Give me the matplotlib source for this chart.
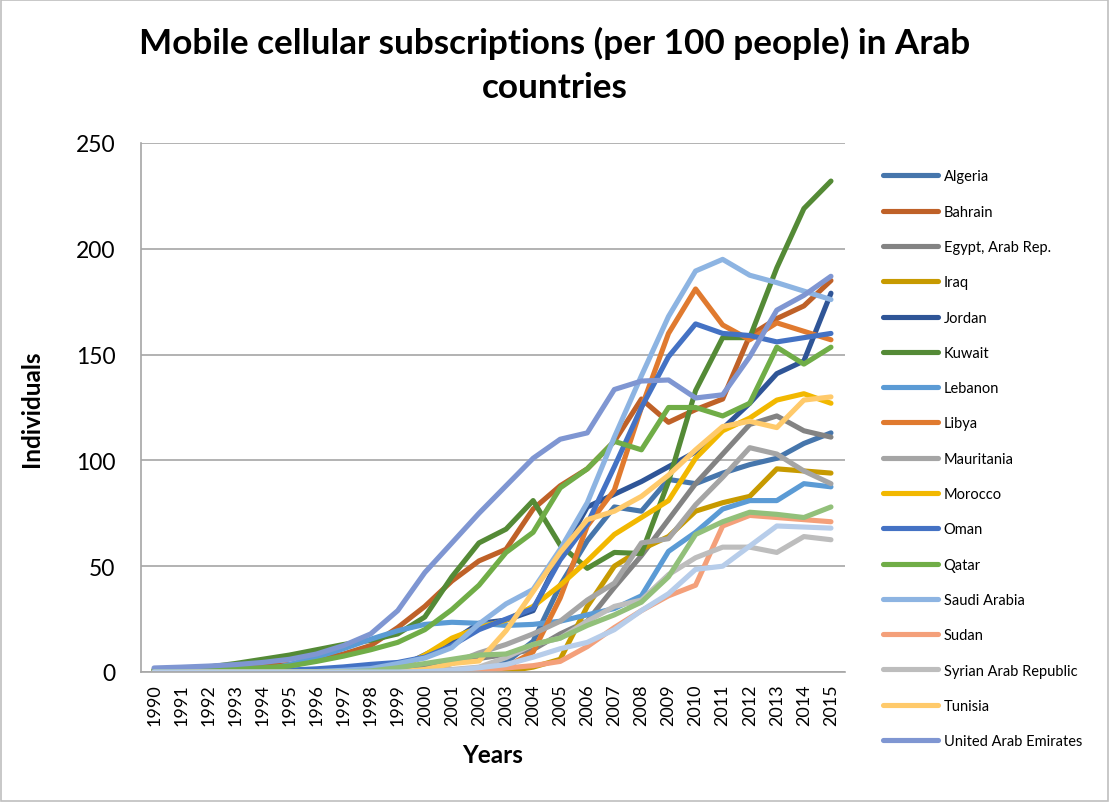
import numpy as np
import matplotlib
matplotlib.use("Agg")
import matplotlib.pyplot as plt
from matplotlib.patches import Rectangle

plt.rcParams['font.family'] = ['Lato', 'DejaVu Sans']

years = list(range(1990, 2016))

# values per 100 people
algeria = [0, 0, 0, 0, 0, 0, 0, 0, 0.1, 0.2, 0.3, 0.3, 1.3, 4.5, 14.5, 41, 62, 78, 76, 91, 89, 94, 98, 101, 108, 113]
bahrain = [0.8, 1.2, 1.5, 2, 2.8, 3.5, 5.5, 8.5, 12.5, 21, 31, 43, 52.5, 58, 77, 88, 96, 109, 129, 118, 124, 129, 159, 167, 173, 185]
egypt = [0, 0, 0, 0, 0, 0, 0, 0, 0.1, 0.7, 2, 4.2, 6.4, 8.3, 10.6, 18, 24, 40, 55, 72, 89, 103, 117, 121, 114, 111]
iraq = [0, 0, 0, 0, 0, 0, 0, 0, 0, 0, 0, 0, 0, 0.3, 2.3, 6, 31, 50, 58, 64, 76, 80, 83, 96, 95, 94]
jordan = [0.1, 0.1, 0.1, 0.1, 0.2, 0.3, 0.5, 1, 1.6, 1.9, 8.1, 14.5, 23, 24.5, 29, 55, 78, 84, 90, 97, 104, 115, 127, 141, 147, 179]
kuwait = [1.2, 1.5, 2.3, 4, 6, 8, 10.5, 13, 15, 18, 26, 45, 61, 67.5, 81, 60, 49, 56.5, 56, 90, 133, 158, 158, 191, 219, 232]
lebanon = [0, 0, 0, 0, 0.5, 3.5, 7, 11, 15.5, 19.5, 22.5, 23.5, 23, 22, 22.5, 24, 27, 30, 36, 57, 66, 77, 81, 81, 89, 87.5]
libya = [0, 0, 0, 0, 0, 0, 0.1, 0.1, 0.1, 0.2, 0.8, 0.9, 1.3, 2.3, 9.5, 35, 69, 86, 125, 160, 181, 164, 157, 165, 161, 157]
mauritania = [0, 0, 0, 0, 0, 0, 0, 0, 0, 0, 0.6, 4, 9, 13, 18, 24, 34, 42, 61, 63, 79, 92, 106, 103, 95, 89]
morocco = [0, 0, 0, 0, 0, 0, 0.1, 0.3, 0.4, 1.3, 8, 16, 21, 24.5, 31, 41, 52.5, 65, 73, 81, 101, 114, 120, 128.5, 131.5, 127]
oman = [0.3, 0.4, 0.5, 0.6, 0.8, 0.9, 1.5, 2.4, 3.6, 4.5, 7, 12.5, 20, 25, 30, 53, 70, 97, 125, 149, 164.5, 160, 159, 156, 158, 160]
qatar = [0.8, 1, 1.3, 1.6, 2, 2.8, 5, 7.5, 10.5, 14, 20, 29.5, 41, 56.5, 66, 87, 96, 109, 105, 125, 125, 121, 127, 153.5, 145.5, 153.5]
saudi = [0.1, 0.1, 0.1, 0.1, 0.1, 0.1, 0.2, 0.8, 1.6, 4, 6.6, 11.5, 22.7, 32.2, 39, 58, 80, 111, 140, 168, 189.5, 195, 187.5, 184, 180, 176]
sudan = [0, 0, 0, 0, 0, 0, 0, 0, 0, 0, 0.1, 0.3, 0.6, 1.9, 3, 5, 12, 21, 29, 36, 41, 69, 74, 73, 72, 71]
syria = [0, 0, 0, 0, 0, 0, 0, 0, 0, 0, 0.2, 1.2, 2.3, 6.8, 13, 16, 24, 31, 34, 46, 54, 59, 59, 56.5, 64, 62.5]
tunisia = [0, 0, 0, 0, 0, 0, 0, 0, 0, 0.1, 1.2, 4, 5.2, 19.5, 38, 56.5, 72, 76, 83, 93, 105, 116, 118.5, 115.5, 128.5, 130]
uae = [1.9, 2.3, 2.8, 3.5, 4.5, 6, 8.5, 12.5, 18, 29, 47, 61, 75, 88, 101, 110, 113, 133.5, 137.5, 138, 129.5, 131, 149, 171, 178, 187]
wbg = [0, 0, 0, 0, 0, 0, 0, 0, 0.5, 2, 4, 6, 8, 8.5, 13, 16, 22, 27, 33, 45, 65, 71, 75.5, 74.5, 73, 78]
yemen = [0, 0, 0, 0, 0, 0, 0, 0, 0, 0, 0.2, 0.8, 2, 3.5, 7, 11, 14, 20, 29, 37, 48.5, 50, 59.5, 69, 68.5, 68]

countries = ['Algeria', 'Bahrain', 'Egypt, Arab Rep.', 'Iraq', 'Jordan', 'Kuwait', 'Lebanon',
             'Libya', 'Mauritania', 'Morocco', 'Oman', 'Qatar', 'Saudi Arabia', 'Sudan',
             'Syrian Arab Republic', 'Tunisia', 'United Arab Emirates',
             'West Bank and Gaza', 'Yemen, Rep.']
series = [algeria, bahrain, egypt, iraq, jordan, kuwait, lebanon, libya, mauritania, morocco,
          oman, qatar, saudi, sudan, syria, tunisia, uae, wbg, yemen]
colors = ['#4676AC', '#BF6128', '#838383', '#C79A00', '#2F5597', '#548A36', '#5B9BD5',
          '#E07A2F', '#A5A5A5', '#F2B800', '#4472C4', '#70AD47', '#8DB4E2', '#F4A07A',
          '#BDBDBD', '#FFCA6B', '#7F96D2', '#92C07A', '#B7CDEA']

fig = plt.figure(figsize=(11.09, 8.03), dpi=100)
ax = fig.add_axes([0.1267, 0.1619, 0.6348, 0.6588])

x = np.arange(len(years))
handles = []
for name, vals, c in zip(countries, series, colors):
    h, = ax.plot(x, vals, color=c, lw=3.7, solid_capstyle='round', solid_joinstyle='round', label=name)
    handles.append(h)

ax.set_xlim(-0.5, len(years) - 0.5)
ax.set_ylim(0, 250)
ax.set_yticks(range(0, 251, 50))
ax.set_xticks(x)
ax.set_xticklabels([str(y) for y in years], rotation=90, fontsize=13)
ax.tick_params(axis='y', labelsize=16.5, length=0, pad=18)
ax.tick_params(axis='x', length=0, pad=8)
ax.grid(axis='y', color='#A6A6A6', lw=1.2)
ax.set_axisbelow(True)
for s in ['top', 'right']:
    ax.spines[s].set_visible(False)
ax.spines['left'].set_color('#A6A6A6')
ax.spines['bottom'].set_color('#A6A6A6')
ax.spines['left'].set_linewidth(1.2)
ax.spines['bottom'].set_linewidth(1.2)

ax.set_xlabel('Years', fontsize=17.5, fontweight='bold', labelpad=13)
ax.set_ylabel('Individuals', fontsize=17.5, fontweight='bold', labelpad=24)

fig.text(0.5, 0.966, 'Mobile cellular subscriptions (per 100 people) in Arab\ncountries',
         ha='center', va='top', fontsize=25.3, fontweight='bold', linespacing=1.45)

# legend shows only the first 17 entries, like the reference
fig.legend(handles[:17], countries[:17], loc='upper left', bbox_to_anchor=(0.791, 0.795),
           frameon=False, fontsize=10.5, labelspacing=1.46, handlelength=3.8,
           handletextpad=0.35, borderaxespad=0)

fig.patches.append(Rectangle((0.001, 0.001), 0.998, 0.998, transform=fig.transFigure,
                             fill=False, edgecolor='#BFBFBF', lw=1.2))

fig.savefig('out.png', dpi=100)
